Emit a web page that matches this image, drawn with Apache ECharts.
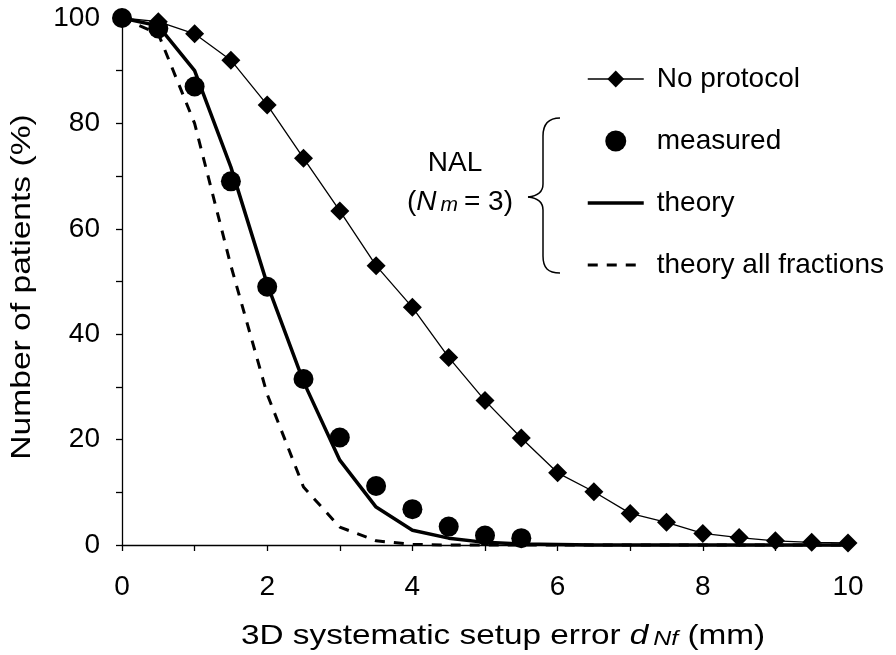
<!DOCTYPE html>
<html lang="en">
<head>
    <meta charset="UTF-8">
    <script src="https://cdn.jsdelivr.net/npm/echarts@6/dist/echarts.min.js"></script>
    <title>Setup error</title>
</head>
<body style="margin:0;background:#fff">
    <div id="main" style="width:896px;height:655px;"></div>
    <script>
        // x positions (mm), step 0.5
        var xValues = [0, 0.5, 1, 1.5, 2, 2.5, 3, 3.5, 4, 4.5, 5, 5.5, 6, 6.5, 7, 7.5, 8, 8.5, 9, 9.5, 10];
        var noProtocol = [100, 99.3, 97, 92, 83.5, 73.4, 63.4, 53, 45.1, 35.6, 27.4, 20.3, 13.7, 10.1, 6, 4.3, 2.2, 1.4, 0.8, 0.5, 0.4];
        var measured = [100, 98, 87, 69, 49, 31.5, 20.4, 11.2, 6.8, 3.5, 1.8, 1.3];
        var theory = [100, 98.5, 90, 71.7, 49.5, 31, 16.1, 7.2, 2.8, 1.3, 0.5, 0.2, 0.1, 0, 0, 0, 0, 0, 0, 0, 0];
        var theoryAll = [100, 97, 80, 53, 28.6, 11, 3.4, 0.8, 0.1, 0, 0, 0, 0, 0, 0, 0, 0, 0, 0, 0, 0];

        function pairs(ys) {
            return ys.map(function (y, i) { return [xValues[i], y]; });
        }

        var font = 'Liberation Sans, Arial, sans-serif';
        var myChart = echarts.init(document.getElementById('main'));

        // curly brace next to the NAL label
        var braceStyle = { stroke: '#000', fill: null, lineWidth: 1.5 };
        function curve(x1, y1, c1x, c1y, c2x, c2y, x2, y2) {
            return { type: 'bezierCurve', shape: { x1: x1, y1: y1, cpx1: c1x, cpy1: c1y, cpx2: c2x, cpy2: c2y, x2: x2, y2: y2 }, style: braceStyle };
        }
        function seg(x1, y1, x2, y2) {
            return { type: 'line', shape: { x1: x1, y1: y1, x2: x2, y2: y2 }, style: braceStyle };
        }

        var subRich = {
            i: { fontSize: 28, fontStyle: 'italic', lineHeight: 28, fontFamily: font },
            sub: { fontSize: 21, fontStyle: 'italic', lineHeight: 14, verticalAlign: 'bottom', fontFamily: font, padding: [0, 0, 0, 4] }
        };

        var option = {
            animation: false,
            textStyle: { fontFamily: font, color: '#000' },
            grid: { left: 122, top: 18, width: 726, height: 527 },
            legend: {
                orient: 'vertical',
                left: 586,
                top: 65,
                padding: 0,
                itemWidth: 56,
                itemHeight: 21,
                itemGap: 34,
                selectedMode: false,
                textStyle: { fontSize: 28, color: '#000', fontFamily: font, padding: [0, 0, 0, 8] },
                lineStyle: { width: 'inherit' },
                data: [
                    { name: 'No protocol' },
                    { name: 'measured' },
                    { name: 'theory', itemStyle: { opacity: 0 } },
                    { name: 'theory all fractions', itemStyle: { opacity: 0 } }
                ]
            },
            xAxis: {
                type: 'value',
                min: 0,
                max: 10,
                interval: 2,
                axisLine: { lineStyle: { color: '#000', width: 1.3 } },
                axisTick: { length: 6, lineStyle: { color: '#000', width: 1.3 } },
                minorTick: { show: true, splitNumber: 2, length: 6, lineStyle: { color: '#000', width: 1.3 } },
                axisLabel: { fontSize: 28, color: '#000', margin: 28 },
                splitLine: { show: false }
            },
            yAxis: {
                type: 'value',
                min: 0,
                max: 100,
                interval: 20,
                axisLine: { show: true, lineStyle: { color: '#000', width: 1.3 } },
                axisTick: { show: true, length: 6, lineStyle: { color: '#000', width: 1.3 } },
                minorTick: { show: true, splitNumber: 2, length: 6, lineStyle: { color: '#000', width: 1.3 } },
                axisLabel: { fontSize: 28, color: '#000', margin: 22 },
                splitLine: { show: false }
            },
            series: [
                {
                    name: 'theory all fractions',
                    type: 'line',
                    data: pairs(theoryAll),
                    symbol: 'none',
                    clip: false,
                    lineStyle: { color: '#000', width: 3, type: [10, 9] },
                    itemStyle: { color: '#000' },
                    z: 2
                },
                {
                    name: 'theory',
                    type: 'line',
                    data: pairs(theory),
                    symbol: 'none',
                    clip: false,
                    lineStyle: { color: '#000', width: 3.5 },
                    itemStyle: { color: '#000' },
                    z: 3
                },
                {
                    name: 'measured',
                    type: 'scatter',
                    data: pairs(measured),
                    symbol: 'circle',
                    symbolSize: 20,
                    clip: false,
                    itemStyle: { color: '#000', opacity: 1 },
                    z: 4
                },
                {
                    name: 'No protocol',
                    type: 'line',
                    data: pairs(noProtocol),
                    symbol: 'diamond',
                    symbolSize: 19,
                    showAllSymbol: true,
                    clip: false,
                    lineStyle: { color: '#000', width: 1.3 },
                    itemStyle: { color: '#000' },
                    z: 5
                }
            ],
            graphic: [
                // axis titles (the original draws them a bit wider than the tick font)
                {
                    type: 'text',
                    x: 241, y: 636, scaleX: 1.19,
                    style: {
                        text: '3D systematic setup error {i|d}{sub|Nf} (mm)',
                        fontSize: 28, lineHeight: 28, fontFamily: font, fill: '#000',
                        align: 'left', verticalAlign: 'middle', rich: subRich
                    }
                },
                {
                    type: 'text',
                    x: 22, y: 287, rotation: Math.PI / 2, scaleX: 1.2,
                    style: {
                        text: 'Number of patients (%)',
                        fontSize: 28, fontFamily: font, fill: '#000',
                        align: 'center', verticalAlign: 'middle'
                    }
                },
                {
                    type: 'text',
                    x: 455, y: 163,
                    style: { text: 'NAL', fontSize: 28, fontFamily: font, fill: '#000', align: 'center', verticalAlign: 'middle' }
                },
                {
                    type: 'text',
                    x: 460, y: 202,
                    style: {
                        text: '({i|N}{sub|m }= 3)',
                        fontSize: 28, lineHeight: 28, fontFamily: font, fill: '#000',
                        align: 'center', verticalAlign: 'middle', rich: subRich
                    }
                },
                curve(560, 118, 548, 118, 543, 124, 543, 136),
                seg(543, 136, 543, 184),
                curve(543, 184, 543, 192, 538, 196, 528, 197),
                curve(528, 197, 538, 198, 543, 202, 543, 210),
                seg(543, 210, 543, 256),
                curve(543, 256, 543, 268, 548, 273, 560, 273)
            ]
        };

        myChart.setOption(option);
    </script>
</body>
</html>
